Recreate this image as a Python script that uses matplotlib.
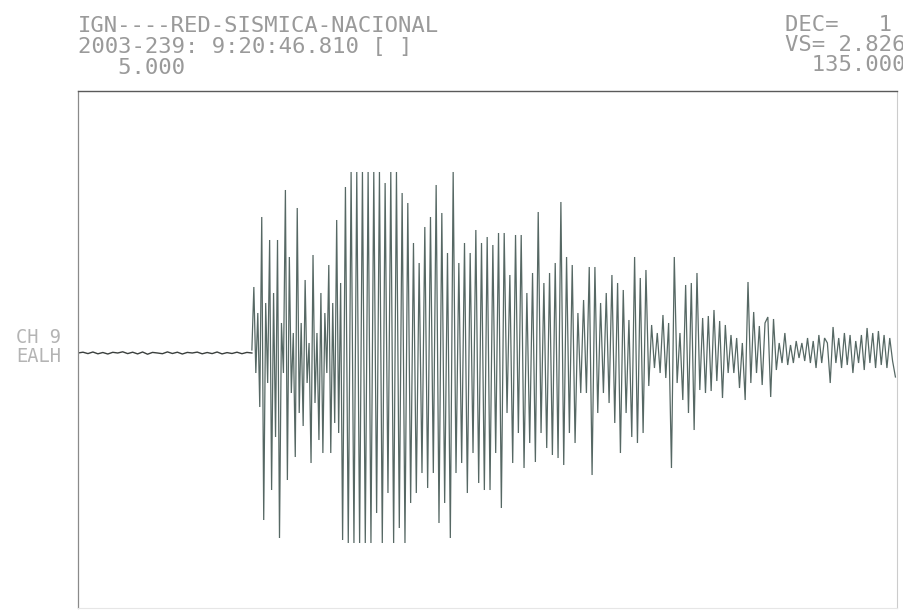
import numpy as np
import matplotlib
matplotlib.use("Agg")
import matplotlib.pyplot as plt

# ---- data ----
t_start, t_end = 5.0, 135.0          # seconds shown on the record
onset_time = 32.6                    # first arrival (s)
main_time = 47.0                     # start of the large-amplitude phase (s)
dt_main = 0.45                       # spacing of the digitised extremes (s)

# small pre-event noise (arbitrary amplitude units)
noise_amps = [0, 0.8, -0.6, 1.0, -0.8, 0.5, -1.0, 0.7, 0, 1.2, -0.6, 0.8,
              -0.9, 1.0, -1.2, 0.6, 0, -0.7, 1.1, -0.5, 0.8, -1.0, 0.6, 0,
              0.9, -0.8, 0.5, -0.6, 1.0, -0.9, 0.4, -0.5, 0.8, -0.7, 0.6, 0]

# first burst after onset (denser digitisation)
burst_amps = [
    3, 66, -20, 40, -54, 136, -167, 50, -30, 113,
    -137, 60, -84, 113, -185, 30, -20, 163, -127, 96,
    -40, 20, -104, 145, -60, 30, -73, 73, -30, 10,
    -110, 98, -50, 20, -87, 60, -100, 40, -20, 88,
    -100, 50, -70, 133, -80, 70,
]

event_amps = [
    -187, 166, -190, 181, -190, 181, -190, 181,
    -190, 181, -190, 181, -160, 181, -190, 170, -140, 181,
    -190, 181, -175, 160, -190, 150, -150, 110, -140, 90,
    -120, 126, -135, 136, -120, 168, -170, 140, -150, 100,
    -185, 181, -120, 90, -110, 110, -140, 100, -100, 123,
    -130, 110, -137, 116, -137, 108, -100, 120, -155, 120,
    -60, 78, -110, 118, -80, 118, -115, 60, -90, 80,
    -109, 141, -80, 70, -95, 80, -102, 90, -105, 151,
    -112, 96, -80, 88, -90, 40, -40, 53, -40, 86,
    -122, 86, -60, 50, -40, 60, -50, 78, -70, 70,
    -100, 63, -60, 33, -84, 96, -90, 75, -80, 83,
    -33, 28, -15, 20, -20, 38, -25, 30, -115, 96,
    -30, 20, -47, 68, -60, 70, -77, 80, -37, 35,
    -40, 37, -38, 43, -28, 32, -45, 28, -20, 18,
    -20, 15, -35, 10, -47, 71, -30, 41, -20, 27,
    -32, 30, 36, -44, 34, -17, 10, -10, 20, -12,
    8, -10, 12, -5, 10, -8, 15, -10, 12, -15,
    18, -10, 15, 10, -30, 26, -10, 15, -15, 20,
    -12, 18, -20, 12, -10, 18, -17, 25, -10, 20,
    -15, 22, -12, 18, -15, 15, -8, -24,
]

header_left = ["IGN----RED-SISMICA-NACIONAL", "2003-239: 9:20:46.810 [ ]", "   5.000"]
header_right = ["DEC=   1", "VS= 2.826", "  135.000"]
channel_label = ["CH 9", "EALH"]

# ---- figure ----
W, H = 904, 614
fig = plt.figure(figsize=(W / 100, H / 100), dpi=100)
fig.patch.set_facecolor("white")

ax_left, ax_right, ax_top, ax_bot = 78, 897, 91, 608
ax = fig.add_axes([ax_left / W, 1 - ax_bot / H, (ax_right - ax_left) / W, (ax_bot - ax_top) / H])

noise_t = np.linspace(t_start, onset_time, len(noise_amps))
burst_t = np.linspace(onset_time, main_time, len(burst_amps), endpoint=False)
event_t = main_time + dt_main * np.arange(len(event_amps))

trace_t = np.concatenate([burst_t, event_t])
trace_a = np.concatenate([burst_amps, event_amps])

ax.plot(noise_t, noise_amps, color="#3a3f3d", lw=1.0)
ax.plot(trace_t, trace_a, color="#566864", lw=0.9, solid_joinstyle="miter")

ax.set_xlim(t_start, t_end)
ax.set_ylim(-255, 262)
ax.set_xticks([])
ax.set_yticks([])
ax.spines["top"].set_color("#5a5a5a")
ax.spines["top"].set_linewidth(1.0)
ax.spines["left"].set_color("#8a8a8a")
ax.spines["left"].set_linewidth(0.9)
ax.spines["right"].set_color("#cccccc")
ax.spines["right"].set_linewidth(0.8)
ax.spines["bottom"].set_color("#e6e6e6")
ax.spines["bottom"].set_linewidth(0.8)

font = dict(family="DejaVu Sans Mono", fontsize=16, color="#9a9a9a")

left_baselines = [32, 53, 74]
for s, yb in zip(header_left, left_baselines):
    fig.text(ax_left / W, 1 - yb / H, s, ha="left", va="baseline", **font)

right_baselines = [31, 51, 71]
for s, yb in zip(header_right, right_baselines):
    fig.text(785 / W, 1 - yb / H, s, ha="left", va="baseline", **font)

lab_font = dict(family="DejaVu Sans Mono", fontsize=13.5, color="#b4b4b4")
for s, yb in zip(channel_label, [343, 362]):
    fig.text(16 / W, 1 - yb / H, s, ha="left", va="baseline", **lab_font)

fig.savefig("out.png", dpi=100, facecolor="white")
